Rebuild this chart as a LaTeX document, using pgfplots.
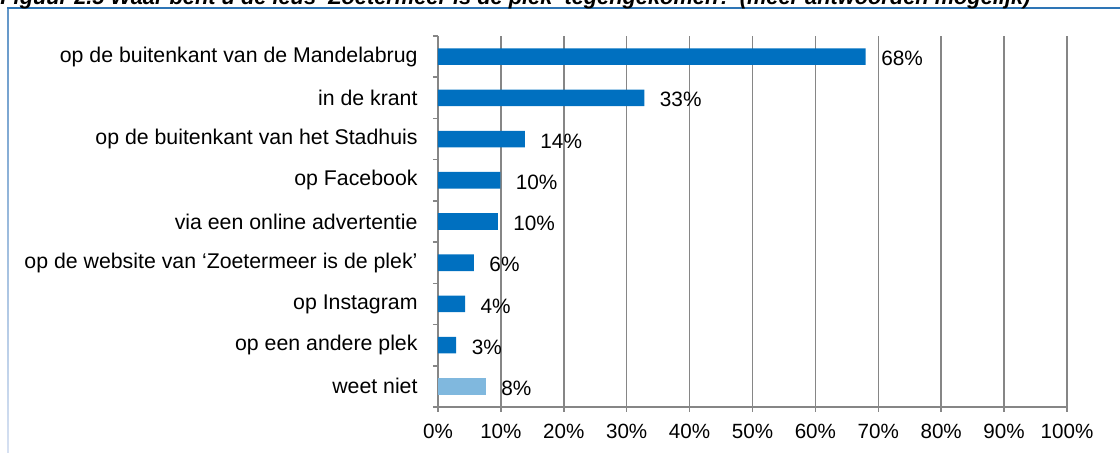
\documentclass[border=0pt]{standalone}
\usepackage{pgfplots}
\pgfplotsset{compat=1.18}
\usepackage{fontspec}
\setmainfont{Liberation Sans}
\definecolor{barblue}{RGB}{0,112,192}
\definecolor{barlight}{RGB}{128,184,222}
\definecolor{gridgray}{RGB}{134,134,134}
\definecolor{frameblue}{RGB}{46,117,182}
\definecolor{framelight}{RGB}{215,225,242}
\begin{document}
\begin{tikzpicture}
\shade[top color=frameblue!70!framelight, bottom color=framelight] (3.6pt,0pt) rectangle (4.4pt,222.5pt);
\draw[frameblue, line width=1pt] (3.6pt,222.5pt) -- (560pt,222.5pt);
\node[anchor=base west, inner sep=0pt, font=\bfseries\itshape\fontsize{10.9}{12}\selectfont] at (0pt,224.3pt) {Figuur 2.5 Waar bent u de leus ‘Zoetermeer is de plek’ tegengekomen? (meer antwoorden mogelijk)};
\begin{axis}[
  at={(219pt,23pt)}, anchor=south west,
  scale only axis, width=314.5pt, height=185.5pt,
  xmin=0, xmax=100, ymin=-0.5, ymax=8.5,
  axis x line*=bottom, axis y line*=left,
  axis line style={gridgray, line width=0.75pt, -},
  xtick={0,10,...,100},
  xticklabels={0\%,10\%,20\%,30\%,40\%,50\%,60\%,70\%,80\%,90\%,100\%},
  xmajorgrids, grid style={gridgray, line width=0.75pt},
  ytick={-0.5,0.5,...,8.5},
  yticklabels={},
  extra y ticks={0,1,2,3,4,5,6,7,8},
  extra y tick labels={weet niet, op een andere plek, op Instagram, op de website van ‘Zoetermeer is de plek’, via een online advertentie, op Facebook, op de buitenkant van het Stadhuis, in de krant, op de buitenkant van de Mandelabrug},
  extra y tick style={major tick length=0pt},
  tick align=outside,
  major tick length=2.5pt,
  tick style={gridgray, line width=0.75pt},
  tick label style={font=\fontsize{10.3}{12}\selectfont, text=black},
  yticklabel style={xshift=-6.7pt, font=\fontsize{10.65}{12}\selectfont},
  xticklabel style={yshift=-2.5pt},
  nodes near coords={\pgfplotspointmeta\%},
  point meta=explicit symbolic,
  every node near coord/.append style={anchor=west, inner sep=0pt, xshift=7.6pt, yshift=-1pt, font=\fontsize{10.4}{12}\selectfont, text=black},
  clip=false,
]
\addplot[xbar, bar shift=0pt, bar width=8.3pt, fill=barblue, draw=none]
  coordinates {(2.9,1)[3] (4.3,2)[4] (5.7,3)[6] (9.5,4)[10] (9.9,5)[10] (13.8,6)[14] (32.8,7)[33] (68.0,8)[68]};
\addplot[xbar, bar shift=0pt, bar width=8.3pt, fill=barlight, draw=none]
  coordinates {(7.6,0)[8]};
\end{axis}
\pgfresetboundingbox
\useasboundingbox (0pt,0pt) rectangle (560pt,226.5pt);
\end{tikzpicture}
\end{document}
